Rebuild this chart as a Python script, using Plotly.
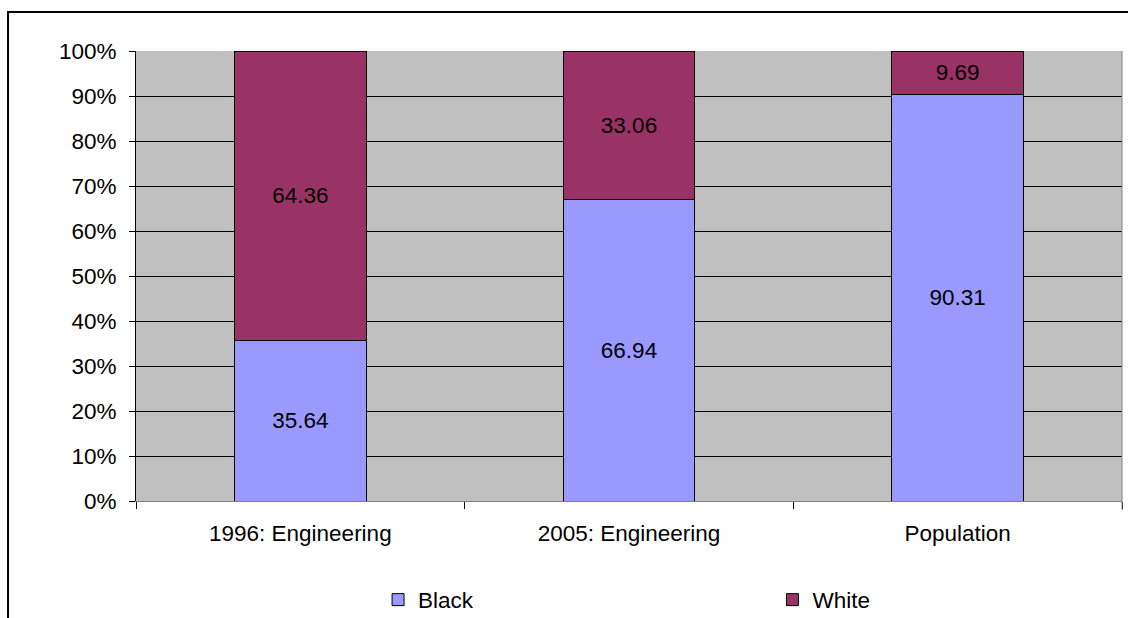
import plotly.graph_objects as go

categories = ["1996: Engineering", "2005: Engineering", "Population"]
black_vals = [35.64, 66.94, 90.31]
white_vals = [64.36, 33.06, 9.69]
y_ticks = list(range(0, 101, 10))
y_tick_labels = [f"{v}%" for v in y_ticks]

FONT = "Arial, Liberation Sans, sans-serif"
FS = 22.5

fig = go.Figure()
fig.add_trace(go.Bar(
    x=categories, y=black_vals, name="Black", legend="legend",
    marker=dict(color="#9999FF", line=dict(color="black", width=1)),
    text=[f"{v:.2f}" for v in black_vals], textposition="inside",
    insidetextanchor="middle", textangle=0, constraintext="none",
    textfont=dict(family=FONT, size=FS, color="black"),
))
fig.add_trace(go.Bar(
    x=categories, y=white_vals, name="White", legend="legend2",
    marker=dict(color="#993366", line=dict(color="black", width=1)),
    text=[f"{v:.2f}" for v in white_vals], textposition="inside",
    insidetextanchor="middle", textangle=0, constraintext="none",
    textfont=dict(family=FONT, size=FS, color="black"),
))

legend_common = dict(y=-0.22, yanchor="middle", xanchor="left",
                     font=dict(family=FONT, size=FS), bgcolor="rgba(0,0,0,0)",
                     itemwidth=30)

fig.update_layout(
    width=1128, height=618,
    margin=dict(l=136, r=6, t=51, b=117, autoexpand=False),
    barmode="stack", bargap=0.6,
    plot_bgcolor="#C0C0C0", paper_bgcolor="white",
    font=dict(family=FONT, size=FS, color="black"),
    showlegend=True,
    legend=dict(x=0.2455, **legend_common),
    legend2=dict(x=0.6455, **legend_common),
    xaxis=dict(showgrid=False, showline=True, linecolor="#808080", linewidth=1,
               ticks="outside", tickson="boundaries", ticklen=7, tickcolor="black",
               ticklabelstandoff=12, tickfont=dict(size=FS), automargin=False),
    yaxis=dict(range=[0, 100], tickvals=y_ticks, ticktext=y_tick_labels,
               showgrid=True, gridcolor="black", gridwidth=1,
               showline=True, linecolor="black", linewidth=1,
               ticks="outside", ticklen=6, tickcolor="black",
               ticklabelstandoff=8, tickfont=dict(size=FS), zeroline=False,
               automargin=False),
    shapes=[
        dict(type="line", xref="paper", yref="paper", x0=1, x1=1, y0=-0.02, y1=1,
             line=dict(color="#808080", width=1)),
        dict(type="rect", xref="paper", yref="paper",
             x0=-0.1298, x1=1.05, y0=-0.5, y1=1.0867,
             line=dict(color="black", width=2), layer="above"),
    ],
)

fig.write_html("out.html")
